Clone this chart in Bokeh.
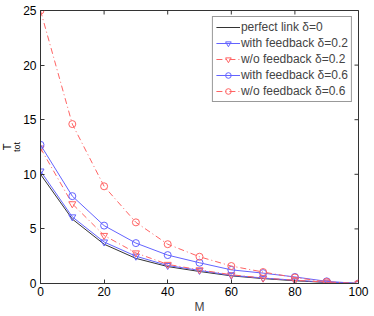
import math
from bokeh.plotting import figure
from bokeh.models import Range1d, FixedTicker, Legend, Title
from bokeh.embed import file_html
from bokeh.resources import INLINE

M = [0, 10, 20, 30, 40, 50, 60, 70, 80, 90, 100]
perfect = [10.0, 5.9, 3.6, 2.3, 1.55, 1.1, 0.7, 0.45, 0.25, 0.1, 0.0]
fb02 = [10.3, 6.1, 3.8, 2.5, 1.65, 1.2, 0.75, 0.5, 0.3, 0.12, 0.0]
nofb02 = [12.4, 7.3, 4.4, 2.8, 1.75, 1.25, 0.8, 0.5, 0.3, 0.12, 0.0]
fb06 = [12.7, 8.0, 5.3, 3.7, 2.6, 1.9, 1.25, 0.95, 0.6, 0.2, 0.0]
nofb06 = [25.0, 14.6, 8.9, 5.6, 3.6, 2.45, 1.6, 1.05, 0.55, 0.15, 0.0]
x_ticks = [0, 20, 40, 60, 80, 100]
y_ticks = [0, 5, 10, 15, 20, 25]
X_MIN, X_MAX = 0, 100
Y_MIN, Y_MAX = 0, 25

BLUE = "#6363ff"
RED = "#ff6363"
BLACK = "#333333"
FONT = "Liberation Sans"

p = figure(width=374, height=316, output_backend="svg", toolbar_location=None,
           x_range=Range1d(X_MIN, X_MAX), y_range=Range1d(Y_MIN, Y_MAX),
           min_border_left=39, min_border_right=16, min_border_top=10, min_border_bottom=32)
p.background_fill_color = "white"
p.border_fill_color = "white"
p.outline_line_color = BLACK
p.grid.visible = False

for ax in (p.xaxis[0], p.yaxis[0]):
    ax.major_tick_in = 4
    ax.major_tick_out = 0
    ax.minor_tick_line_color = None
    ax.axis_line_color = BLACK
    ax.major_tick_line_color = BLACK
    ax.major_label_text_font = FONT
    ax.major_label_text_font_size = "12px"
    ax.major_label_text_color = "black"
p.xaxis[0].ticker = FixedTicker(ticks=x_ticks)
p.yaxis[0].ticker = FixedTicker(ticks=y_ticks)
p.xaxis[0].major_label_standoff = 3
p.yaxis[0].major_label_standoff = 4
p.xaxis[0].axis_label = "M"
p.xaxis[0].axis_label_text_font = FONT
p.xaxis[0].axis_label_text_font_size = "12px"
p.xaxis[0].axis_label_text_font_style = "normal"
p.xaxis[0].axis_label_standoff = 1

# y-axis label T_tot: two stacked side titles (subscript "tot" inner, "T" outer)
t_sub = Title(text="tot", align="center", offset=3, standoff=-3,
              text_font=FONT, text_font_size="9px", text_font_style="normal",
              text_color="black", text_line_height=1.0)
t_main = Title(text="T", align="center", offset=-8, standoff=-3,
               text_font=FONT, text_font_size="11px", text_font_style="normal",
               text_color="black", text_line_height=1.0)
p.add_layout(t_sub, "left")
p.add_layout(t_main, "left")

# mirrored box ticks on the top and right edges (half of each dash is clipped by the frame)
p.scatter([X_MAX] * len(y_ticks), y_ticks, marker="dash", size=8, angle=0,
          line_color=BLACK, line_width=1)
p.scatter(x_ticks, [Y_MAX] * len(x_ticks), marker="dash", size=8, angle=math.pi / 2,
          line_color=BLACK, line_width=1)

r0 = p.line(M, perfect, color=BLACK, line_width=1)
r1 = p.line(M, fb02, color=BLUE, line_width=1)
r1m = p.scatter(M, fb02, marker="inverted_triangle", size=7, line_color=BLUE, fill_color=None)
r2 = p.line(M, nofb02, color=RED, line_width=1, line_dash="6 3 1 3")
r2m = p.scatter(M, nofb02, marker="inverted_triangle", size=7, line_color=RED, fill_color=None)
r3 = p.line(M, fb06, color=BLUE, line_width=1)
r3m = p.scatter(M, fb06, marker="circle", size=7, line_color=BLUE, fill_color=None)
r4 = p.line(M, nofb06, color=RED, line_width=1, line_dash="6 3 1 3")
r4m = p.scatter(M, nofb06, marker="circle", size=7, line_color=RED, fill_color=None)

legend = Legend(items=[
    ("perfect link δ=0", [r0]),
    ("with feedback δ=0.2", [r1, r1m]),
    ("w/o feedback δ=0.2", [r2, r2m]),
    ("with feedback δ=0.6", [r3, r3m]),
    ("w/o feedback δ=0.6", [r4, r4m]),
], location="top_right")
legend.margin = 6
legend.padding = 3
legend.spacing = 2
legend.label_height = 14
legend.glyph_height = 14
legend.glyph_width = 24
legend.label_standoff = 1
legend.label_text_font = FONT
legend.label_text_font_size = "12px"
legend.border_line_color = BLACK
legend.border_line_width = 1
legend.background_fill_color = "white"
legend.background_fill_alpha = 1
p.add_layout(legend, "center")

open("out.html", "w").write(file_html(p, INLINE))
